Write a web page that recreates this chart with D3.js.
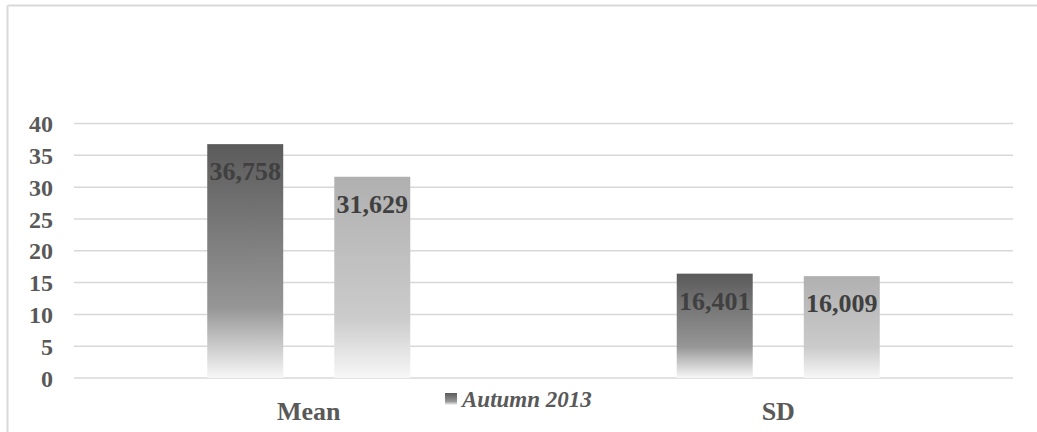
<!DOCTYPE html>
<html>
<head>
<meta charset="utf-8">
<script src="https://d3js.org/d3.v7.min.js"></script>
<style>
  html, body { margin: 0; padding: 0; background: #fff; }
  svg { display: block; }
</style>
</head>
<body>
<svg id="chart" width="1037" height="432"></svg>
<script>
const categories = ["Mean", "SD"];
const seriesNames = ["Autumn 2013", "Series 2"];
const seriesA = [36.758, 16.401];
const seriesB = [31.629, 16.009];
const yTicks = [0, 5, 10, 15, 20, 25, 30, 35, 40];
const legendNames = ["Autumn 2013"];

const svg = d3.select("#chart");
const W = 1037, H = 432;
const FONT = "'Liberation Serif', 'Times New Roman', serif";

const data = categories.map((c, i) => ({cat: c, values: [
  {key: seriesNames[0], idx: 0, v: seriesA[i]},
  {key: seriesNames[1], idx: 1, v: seriesB[i]}
]}));

// outer chart border (partial, as in reference)
svg.append("line").attr("x1", 7.5).attr("x2", W).attr("y1", 5.5).attr("y2", 5.5)
  .attr("stroke", "#d9d9d9").attr("stroke-width", 2);
svg.append("line").attr("x1", 7.5).attr("x2", 7.5).attr("y1", 5.5).attr("y2", H)
  .attr("stroke", "#d9d9d9").attr("stroke-width", 2);

const left = 74, right = 1013;
const y = d3.scaleLinear().domain([0, 40]).range([378, 123.5]);
const x0 = d3.scaleBand().domain(categories).range([left, right])
  .paddingInner(0.5676).paddingOuter(0.2838);
const x1 = d3.scaleBand().domain(seriesNames).range([0, x0.bandwidth()])
  .paddingInner(0.402).paddingOuter(0);

// gradients
const defs = svg.append("defs");
const grads = [
  {id: "g0", stops: [[0, "#5b5b5b"], [0.7, "#969696"], [1, "#f7f7f7"]]},
  {id: "g1", stops: [[0, "#b0b0b0"], [0.7, "#cbcbcb"], [1, "#f7f7f7"]]}
];
grads.forEach(g => {
  const lg = defs.append("linearGradient").attr("id", g.id)
    .attr("x1", 0).attr("y1", 0).attr("x2", 0).attr("y2", 1);
  g.stops.forEach(s => lg.append("stop").attr("offset", s[0]).attr("stop-color", s[1]));
});

// gridlines
svg.append("g").selectAll("line").data(yTicks).join("line")
  .attr("x1", left).attr("x2", right)
  .attr("y1", d => y(d)).attr("y2", d => y(d))
  .attr("stroke", "#d8d8d8").attr("stroke-width", 1.5);

// y axis labels
const yAxis = d3.axisLeft(y).tickValues(yTicks).tickSize(0).tickPadding(0);
const yg = svg.append("g").attr("transform", "translate(53,0)").call(yAxis);
yg.select(".domain").remove();
yg.selectAll("text")
  .attr("font-family", FONT).attr("font-weight", "bold").attr("font-size", 24)
  .attr("fill", "#595959").attr("dy", "0.34em");

// bars
const groups = svg.append("g").selectAll("g").data(data).join("g")
  .attr("transform", d => `translate(${x0(d.cat)},0)`);
groups.selectAll("rect").data(d => d.values).join("rect")
  .attr("x", d => x1(d.key)).attr("width", x1.bandwidth())
  .attr("y", d => y(d.v)).attr("height", d => y(0) - y(d.v))
  .attr("fill", d => `url(#g${d.idx})`);

// value labels
const fmt = v => d3.format(".3f")(v).replace(".", ",");
groups.selectAll("text").data(d => d.values).join("text")
  .attr("x", d => x1(d.key) + x1.bandwidth() / 2)
  .attr("y", d => y(d.v) + 36)
  .attr("text-anchor", "middle")
  .attr("font-family", FONT).attr("font-weight", "bold").attr("font-size", 26)
  .attr("fill", "#404040")
  .text(d => fmt(d.v));

// x axis category labels
const xAxis = d3.axisBottom(x0).tickSize(0).tickPadding(0);
const xg = svg.append("g").attr("transform", "translate(0,420)").call(xAxis);
xg.select(".domain").remove();
xg.selectAll("text")
  .attr("font-family", FONT).attr("font-weight", "bold").attr("font-size", 26)
  .attr("fill", "#595959").attr("dy", 0).attr("y", 0);

// legend
const leg = svg.append("g");
legendNames.forEach((n, i) => {
  leg.append("rect").attr("x", 445).attr("y", 393).attr("width", 12).attr("height", 12)
    .attr("fill", `url(#g${i})`);
  leg.append("text").attr("x", 462).attr("y", 406.5)
    .attr("font-family", FONT).attr("font-weight", "bold").attr("font-style", "italic")
    .attr("font-size", 23).attr("fill", "#595959").text(n);
});
</script>
</body>
</html>
